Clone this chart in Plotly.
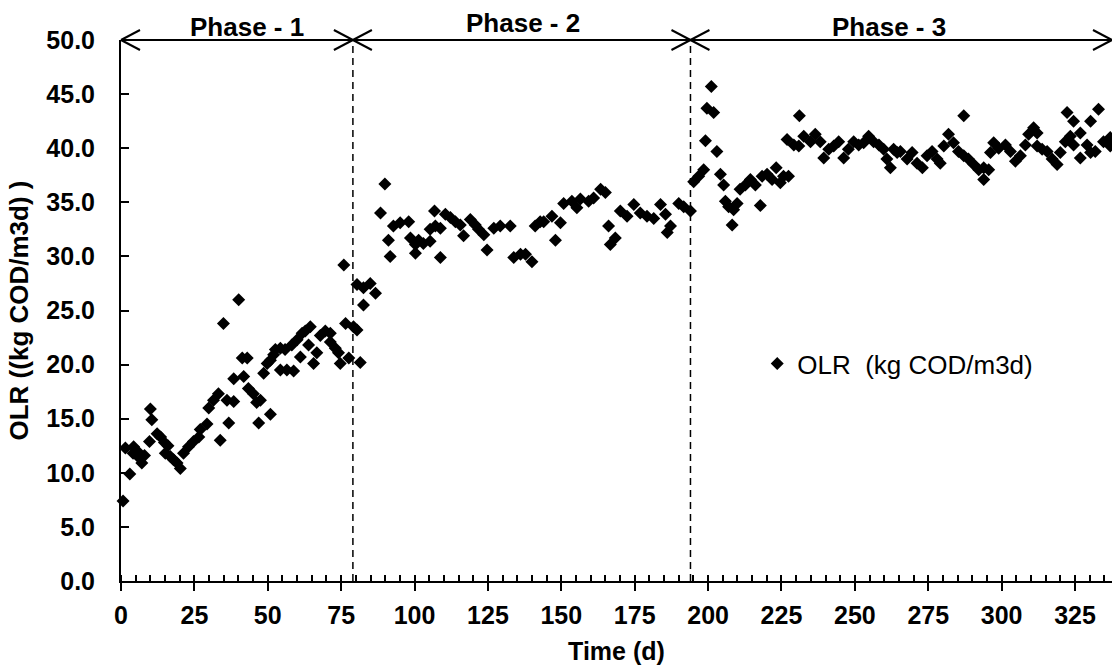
import plotly.graph_objects as go

# ---------------- data ----------------
time_d = [
    # Phase 1
    0.7, 1.5, 3.0, 4.1, 4.3, 5.6, 6.2, 7.1, 8.0, 9.7, 10.0, 10.5, 12.3, 13.5, 14.8,
    15.1, 16.0, 16.8, 17.9, 19.1, 20.2, 21.3, 23.0, 24.7, 26.5, 27.0, 29.3, 29.9,
    31.5, 33.2, 33.8, 34.9, 36.1, 36.7, 38.4, 38.4, 40.1, 41.3, 41.8, 43.0, 43.4,
    45.1, 46.2, 46.9, 47.5, 48.6, 49.8, 50.9, 50.9, 52.0, 52.6, 54.3, 54.3, 55.9,
    56.5, 58.2, 58.8, 60.0, 61.1, 61.7, 62.8, 63.9, 64.5, 65.6, 66.7, 67.9, 69.6,
    71.3, 71.3, 73.0, 74.1, 74.7, 75.9, 76.5, 77.6, 79.2,
    # Phase 2
    80.4, 80.4, 81.5, 82.6, 82.6, 84.9, 86.7, 88.4, 89.9, 91.1, 91.7, 92.8, 95.1,
    98.0, 98.6, 100.3, 100.3, 101.4, 103.0, 105.3, 105.3, 106.8, 107.1, 108.8,
    108.8, 110.5, 112.2, 113.9, 115.6, 116.7, 119.0, 120.7, 121.8, 123.6, 124.7,
    127.0, 129.2, 132.6, 133.8, 136.1, 137.8, 140.0, 141.1, 142.8, 144.0, 146.8,
    148.0, 149.7, 150.8, 153.6, 155.3, 156.5, 159.3, 161.0, 163.4, 165.0, 166.1,
    166.7, 168.4, 170.1, 172.4, 174.7, 176.9, 179.2, 181.5, 183.8, 185.5, 186.1,
    187.2, 190.0, 191.7, 194.0,
    # Phase 3
    195.1, 196.8, 198.5, 199.1, 199.6, 201.1, 201.9, 203.0, 204.2, 205.3, 205.9,
    207.0, 208.2, 208.7, 209.9, 210.9, 212.7, 214.4, 216.1, 217.8, 218.4, 220.1,
    221.8, 223.2, 224.6, 225.7, 226.9, 227.4, 229.2, 230.9, 231.1, 232.6, 234.9,
    236.5, 238.2, 239.4, 241.1, 242.8, 244.5, 246.2, 247.8, 249.6, 251.3, 253.0,
    254.7, 256.4, 258.2, 259.8, 260.9, 262.1, 263.2, 264.4, 265.5, 267.8, 269.5,
    271.2, 273.0, 274.6, 276.3, 278.0, 279.1, 280.3, 281.9, 283.6, 285.3, 287.1,
    287.1, 288.7, 290.5, 292.2, 293.9, 293.9, 295.6, 296.2, 297.3, 299.0, 301.3,
    303.0, 304.7, 306.4, 308.1, 309.2, 310.9, 312.1, 312.1, 313.8, 315.5, 317.2,
    318.9, 320.0, 321.7, 322.3, 323.4, 324.5, 324.5, 326.8, 326.8, 329.1, 330.3,
    330.3, 331.9, 333.0, 334.7, 337.0, 337.0,
]

olr = [
    # Phase 1
    7.4, 12.3, 9.9, 11.8, 12.4, 12.0, 11.4, 10.9, 11.6, 12.9, 15.9, 14.9, 13.6, 13.3, 12.8,
    11.8, 12.5, 11.5, 11.2, 10.9, 10.4, 11.8, 12.4, 12.9, 13.3, 14.0, 14.5, 16.0,
    16.7, 17.3, 13.0, 23.8, 16.7, 14.6, 16.6, 18.7, 26.0, 20.6, 18.9, 20.6, 17.8,
    17.3, 16.5, 14.6, 16.7, 19.2, 20.1, 15.4, 20.4, 20.9, 21.4, 21.5, 19.5, 21.4,
    19.5, 21.8, 19.4, 22.3, 20.7, 22.9, 23.1, 21.8, 23.5, 20.1, 21.1, 22.7, 23.1,
    22.9, 22.1, 21.5, 21.1, 20.1, 29.2, 23.8, 20.6, 23.5,
    # Phase 2
    23.2, 27.4, 20.2, 27.1, 25.5, 27.5, 26.6, 34.0, 36.7, 31.5, 30.0, 32.8, 33.1,
    33.2, 31.7, 31.1, 30.3, 31.5, 31.2, 31.4, 32.5, 34.2, 32.8, 32.6,
    29.9, 33.9, 33.6, 33.2, 32.9, 31.9, 33.4, 32.9, 32.5, 32.0, 30.6,
    32.6, 32.8, 32.8, 29.9, 30.2, 30.2, 29.5, 32.8, 33.2, 33.2, 33.7,
    31.5, 33.1, 34.9, 35.1, 34.5, 35.3, 35.1, 35.4, 36.2, 35.9, 32.8,
    31.1, 31.7, 34.2, 33.7, 34.8, 34.0, 33.7, 33.5, 34.8, 33.9, 32.2,
    32.8, 34.9, 34.6, 34.2,
    # Phase 3
    36.9, 37.4, 38.0, 40.7, 43.7, 45.7, 43.3, 39.7, 37.6, 36.6, 35.1,
    34.6, 32.9, 34.3, 34.9, 36.2, 36.6, 37.1, 36.6, 34.7, 37.4, 37.6,
    37.1, 38.2, 36.8, 37.4, 40.8, 37.4, 40.3, 40.2, 43.0, 41.1, 40.6,
    41.3, 40.6, 39.1, 39.9, 40.2, 40.6, 39.1, 39.9, 40.6, 40.3, 40.5,
    41.1, 40.6, 40.3, 39.9, 39.0, 38.2, 39.9, 39.6, 39.7, 39.0, 39.6,
    38.6, 38.2, 39.3, 39.7, 39.0, 38.6, 40.2, 41.3, 40.5, 39.7, 43.0,
    39.3, 39.0, 38.5, 38.0, 37.1, 38.2, 38.0, 39.6, 40.5, 40.0, 40.3,
    39.7, 38.8, 39.3, 40.3, 41.3, 41.9, 41.4, 40.2, 39.9, 39.7, 39.0,
    38.5, 39.6, 40.6, 43.3, 41.1, 42.5, 40.3, 41.4, 39.1, 40.3, 42.5,
    39.6, 39.7, 43.6, 40.6, 41.0, 40.2,
]

series_name = "OLR  (kg COD/m3d)"
x_title = "Time (d)"
y_title = "OLR ((kg COD/m3d) )"

phase_edges = [0, 79, 194, 337.6]          # phase boundaries (d); last = axis end
phase_labels = ["Phase - 1", "Phase - 2", "Phase - 3"]
phase_label_x = [43, 137, 261.5]
phase_label_yshift = [-4, 0, -4]

y_max = 50
x_max = phase_edges[-1]

# ---------------- layout geometry ----------------
W, H = 1112, 667
ML, MR, MT, MB = 121, 0, 40, 86
plot_w = W - ML - MR
plot_h = H - MT - MB

FONT = "Liberation Sans, Arial, sans-serif"

fig = go.Figure()
fig.add_trace(go.Scatter(
    x=time_d, y=olr, mode="markers", name=series_name,
    marker=dict(symbol="diamond", size=10, color="black", line=dict(width=0)),
    cliponaxis=False,
))

shapes = []
# dashed phase dividers
for e in phase_edges[1:-1]:
    shapes.append(dict(type="line", xref="x", yref="paper", x0=e, x1=e, y0=0, y1=1,
                       line=dict(color="black", width=1.5, dash="7px,5px")))

# double-headed phase arrows along the top
head_dx = 19 / plot_w
head_dy = 10 / plot_h
arrow_line = dict(color="black", width=2)
for a, b in zip(phase_edges[:-1], phase_edges[1:]):
    pa, pb = a / x_max, b / x_max
    shapes.append(dict(type="line", xref="paper", yref="paper", x0=pa, x1=pb, y0=1, y1=1, line=arrow_line))
    for tip, d in ((pa, head_dx), (pb, -head_dx)):
        shapes.append(dict(type="line", xref="paper", yref="paper", x0=tip, x1=tip + d,
                           y0=1, y1=1 + head_dy, line=arrow_line))
        shapes.append(dict(type="line", xref="paper", yref="paper", x0=tip, x1=tip + d,
                           y0=1, y1=1 - head_dy, line=arrow_line))

annotations = []
for lbl, lx, ys in zip(phase_labels, phase_label_x, phase_label_yshift):
    annotations.append(dict(text=lbl, x=lx, xref="x", y=1, yref="paper",
                            xanchor="center", yanchor="bottom", yshift=ys, showarrow=False,
                            font=dict(family=FONT, size=26, color="black", weight="bold")))

tickfont = dict(family=FONT, size=25, color="black", weight="bold")
titlefont = dict(family=FONT, size=25, color="black", weight="bold")
ytitlefont = dict(family=FONT, size=26, color="black", weight="bold")

fig.update_layout(
    width=W, height=H,
    margin=dict(l=ML, r=MR, t=MT, b=MB),
    paper_bgcolor="white", plot_bgcolor="white",
    font=dict(family=FONT, color="black"),
    shapes=shapes,
    annotations=annotations,
    showlegend=True,
    legend=dict(x=0.642, y=0.402, xanchor="left", yanchor="middle",
                bgcolor="rgba(0,0,0,0)", itemwidth=30,
                font=dict(family=FONT, size=26, color="black")),
    xaxis=dict(
        range=[0, x_max], tick0=0, dtick=25, showgrid=False, zeroline=False,
        showline=True, linecolor="black", linewidth=2,
        ticks="outside", ticklen=8, tickwidth=2, tickcolor="black",
        minor=dict(dtick=5, ticks="inside", ticklen=6, tickwidth=1.5, tickcolor="black", showgrid=False),
        tickfont=tickfont, ticklabelstandoff=3,
        title=dict(text=x_title, font=titlefont, standoff=14),
    ),
    yaxis=dict(
        range=[0, y_max], tick0=0, dtick=5, tickformat=".1f", showgrid=False, zeroline=False,
        showline=True, linecolor="black", linewidth=2,
        ticks="inside", ticklen=8, tickwidth=2, tickcolor="black",
        tickfont=tickfont, ticklabelstandoff=19,
        title=dict(text=y_title, font=ytitlefont, standoff=10),
    ),
)

fig.write_html("out.html")
